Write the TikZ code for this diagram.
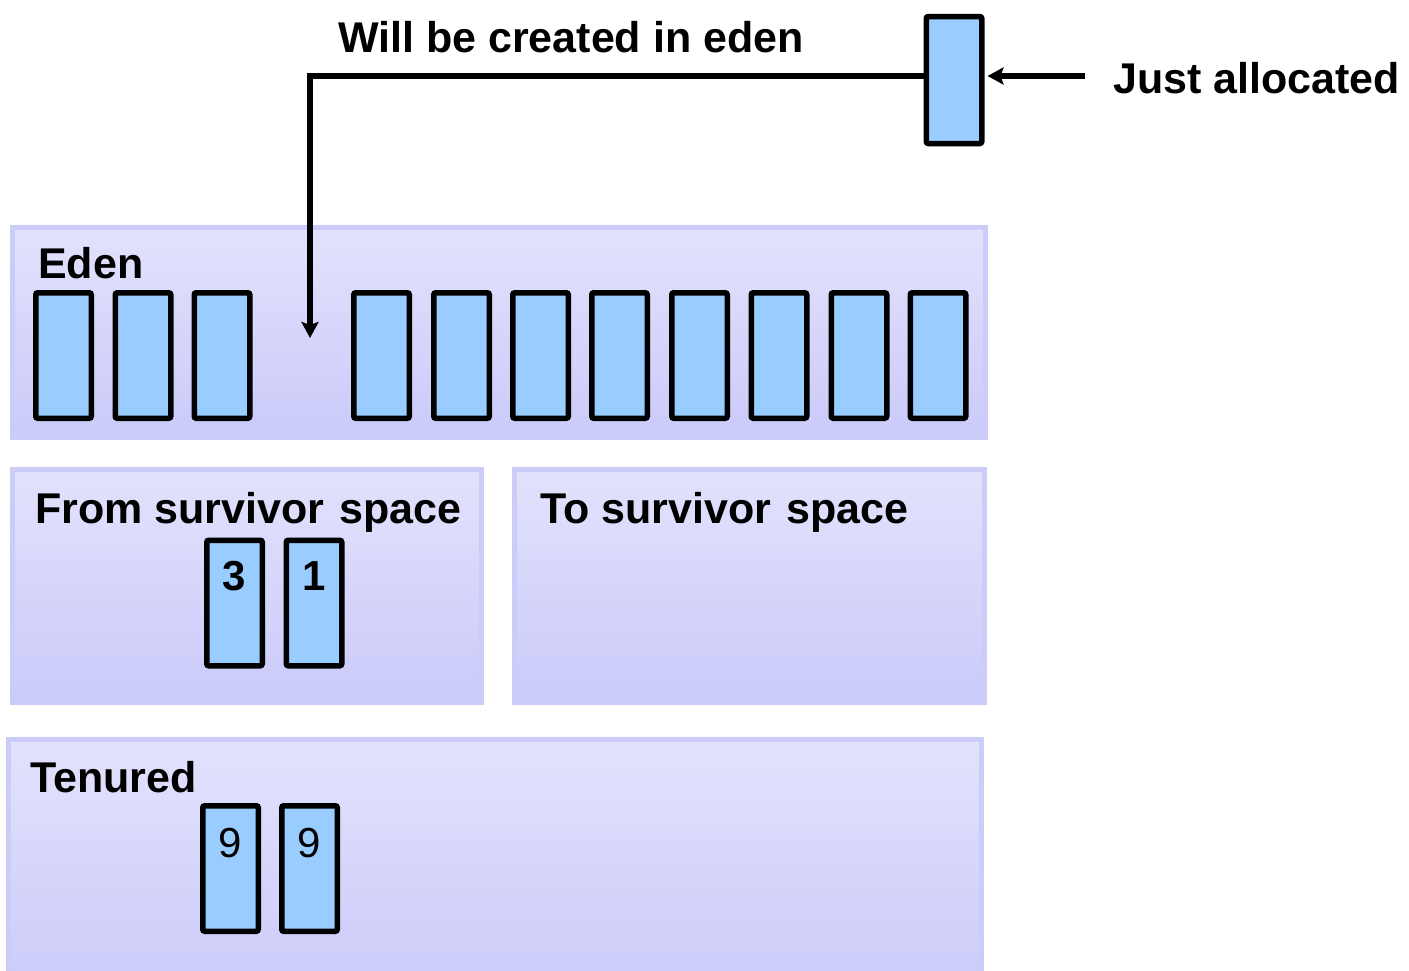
\documentclass[tikz,border=0pt]{standalone}
\usepackage{fontspec}
\setmainfont{Liberation Sans}
\usetikzlibrary{arrows.meta,calc}

\definecolor{objfill}{RGB}{153,204,255}
\definecolor{regtop}{RGB}{226,226,252}
\definecolor{regbot}{RGB}{202,202,250}
\definecolor{regedge}{RGB}{204,204,248}

\begin{document}
\begin{tikzpicture}[x=1pt,y=-1pt,
  region/.style={draw=regedge, line width=5pt, top color=regtop, bottom color=regbot,
    rectangle, inner sep=0pt},
  objbox/.style={draw=black, fill=objfill, line width=5.5pt, rounded corners=2pt,
    rectangle, inner sep=0pt, minimum width=55.5pt, minimum height=125.5pt},
  title/.style={font=\fontsize{43}{50}\selectfont\bfseries, anchor=base west, inner sep=0pt},
  agenum/.style={font=\fontsize{42}{48}\selectfont, anchor=base, inner sep=0pt},
  conn/.style={draw=black, line width=5.5pt, -{Stealth[length=16pt,width=17pt,inset=3pt]}}
]
\useasboundingbox (0,0) rectangle (1409,970);

% generations of the heap
\node[region, minimum width=973pt, minimum height=210pt] (eden) at (499,332.5) {};
\node[region, minimum width=469pt, minimum height=233pt] (from) at (247,586) {};
\node[region, minimum width=470pt, minimum height=233pt] (to) at (749.5,586) {};
\node[region, minimum width=973pt, minimum height=261pt] (tenured) at (495,870) {};

% region titles
\node[title] (edenlbl) at (38,278) {Eden};
\node[title] (fromlbl) at (35,523) {From survivor\hspace{3pt} space};
\node[title] (tolbl) at (540,523) {To survivor\hspace{3pt} space};
\node[title] (tenlbl) at (30,792) {Tenured};

% objects living in eden
\foreach \cx [count=\i] in {63.5,143,222,381.5,461.5,540.5,619.5,699.5,779,859,938}
  \node[objbox] (e\i) at (\cx,355.5) {};

% survivor objects with their ages
\node[objbox] (s3) at (234.5,603) {};
\node[objbox] (s1) at (314,603) {};
\node[agenum, font=\fontsize{42}{48}\selectfont\bfseries] (s3age) at ([yshift=-53pt]s3.north) {3};
\node[agenum, font=\fontsize{42}{48}\selectfont\bfseries] (s1age) at ([yshift=-53pt]s1.north) {1};

% tenured objects
\node[objbox] (t1) at (230.5,868.5) {};
\node[objbox] (t2) at (309.5,868.5) {};
\node[agenum] (t1age) at ([yshift=-54pt]t1.north) {9};
\node[agenum] (t2age) at ([yshift=-54pt]t2.north) {9};

% newly allocated object
\node[objbox, minimum height=127pt] (newobj) at (954,80) {};
\node[title] (createlbl) at (338,52) {Will be created in eden};
\node[title] (justlbl) at (1113,93) {Just allocated};

\coordinate (drop) at (310,338);
\coordinate (jastart) at (1085,76);
\draw[conn] ($(newobj.west)+(0,-4)$) -| (drop);
\draw[conn] (jastart) -- ($(newobj.east)+(3,-4)$);
\end{tikzpicture}
\end{document}
